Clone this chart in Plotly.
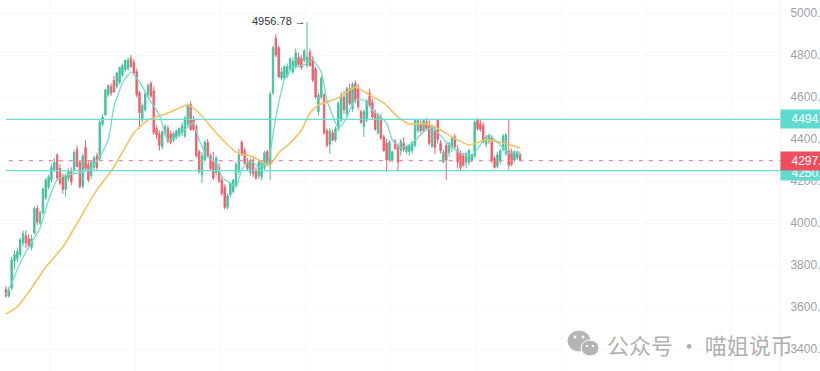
import plotly.graph_objects as go

# OHLC values
opens = [3686,3653,3690,3820,3830,3850,3905,3940,3925,3885,
 3955,4070,4000,4050,4120,4170,4205,4255,4325,4260,
 4220,4160,4215,4245,4255,4350,4290,4175,4360,4280,
 4225,4265,4320,4305,4470,4515,4610,4650,4680,4650,
 4670,4705,4730,4735,4785,4765,4720,4620,4490,4540,
 4610,4665,4630,4450,4425,4365,4425,4450,4425,4395,
 4410,4420,4430,4415,4470,4565,4490,4460,4340,4230,
 4300,4385,4320,4290,4240,4265,4205,4170,4075,4135,
 4150,4180,4245,4385,4345,4290,4240,4300,4250,4225,
 4220,4265,4340,4280,4620,4880,4835,4690,4690,4700,
 4735,4720,4745,4790,4785,4775,4750,4815,4780,4735,
 4530,4600,4610,4440,4375,4430,4395,4450,4490,4600,
 4520,4640,4545,4665,4640,4530,4460,4490,4620,4575,
 4525,4430,4505,4410,4380,4300,4300,4390,4370,4345,
 4380,4340,4340,4345,4370,4440,4470,4440,4480,4470,
 4365,4440,4490,4380,4290,4370,4335,4360,4410,4350,
 4330,4320,4290,4290,4300,4320,4490,4475,4465,4375,
 4390,4405,4310,4270,4295,4350,4330,4345,4340,4300,4310,4325]
highs = [3700,3695,3840,3870,3880,3930,3965,3965,3945,3945,
 4080,4085,4060,4170,4215,4230,4280,4310,4330,4280,
 4235,4235,4260,4265,4350,4370,4300,4330,4395,4300,
 4300,4320,4335,4495,4520,4640,4660,4665,4700,4720,
 4745,4760,4780,4790,4800,4780,4735,4630,4570,4625,
 4665,4675,4650,4465,4440,4440,4470,4465,4440,4435,
 4445,4455,4480,4510,4570,4580,4510,4470,4350,4340,
 4395,4400,4330,4340,4320,4285,4225,4185,4140,4195,
 4210,4290,4355,4395,4360,4310,4310,4320,4265,4300,
 4300,4345,4350,4625,4845,4900,4845,4740,4750,4760,
 4790,4790,4830,4810,4800,4830,4956.78,4830,4795,4745,
 4620,4700,4620,4450,4450,4445,4460,4580,4625,4630,
 4650,4665,4670,4680,4660,4540,4540,4590,4640,4590,
 4540,4525,4520,4420,4400,4395,4340,4400,4380,4400,
 4410,4370,4375,4390,4495,4495,4490,4495,4500,4490,
 4470,4465,4495,4395,4350,4385,4385,4410,4425,4370,
 4345,4335,4340,4355,4330,4490,4500,4490,4480,4420,
 4425,4420,4320,4340,4355,4425,4430,4495,4355,4345,4345,4335]
lows = [3645,3645,3680,3780,3815,3840,3890,3880,3875,3870,
 3945,3990,3990,4040,4110,4160,4195,4245,4205,4180,
 4140,4125,4200,4180,4240,4265,4165,4165,4250,4195,
 4210,4250,4250,4295,4460,4510,4600,4605,4620,4640,
 4660,4695,4720,4725,4740,4710,4600,4450,4480,4530,
 4600,4595,4420,4400,4345,4350,4415,4380,4375,4385,
 4400,4410,4415,4405,4460,4440,4440,4310,4235,4190,
 4290,4310,4250,4205,4225,4190,4130,4065,4065,4125,
 4140,4170,4230,4320,4280,4250,4225,4220,4205,4210,
 4205,4250,4270,4205,4610,4790,4690,4680,4680,4690,
 4725,4710,4735,4745,4730,4765,4740,4745,4670,4590,
 4510,4590,4420,4360,4330,4390,4385,4440,4480,4520,
 4510,4560,4530,4570,4540,4470,4410,4480,4550,4495,
 4440,4420,4395,4340,4245,4290,4290,4350,4245,4320,
 4340,4330,4320,4330,4360,4430,4430,4430,4445,4370,
 4360,4330,4380,4330,4285,4205,4315,4340,4350,4260,
 4250,4270,4260,4275,4290,4310,4440,4435,4380,4360,
 4375,4285,4260,4260,4280,4340,4320,4255,4270,4290,4300,4295]
closes = [3653,3680,3824,3850,3865,3920,3950,3905,3890,3925,
 4070,4005,4050,4160,4205,4220,4265,4290,4215,4190,
 4160,4225,4245,4195,4335,4270,4175,4320,4260,4205,
 4290,4310,4265,4480,4505,4635,4655,4620,4625,4715,
 4740,4750,4775,4775,4745,4715,4610,4525,4560,4615,
 4655,4605,4430,4420,4370,4435,4460,4390,4385,4425,
 4440,4450,4465,4500,4560,4445,4445,4320,4245,4320,
 4385,4320,4260,4215,4310,4200,4140,4075,4130,4190,
 4205,4280,4325,4325,4285,4260,4300,4235,4215,4290,
 4290,4335,4280,4615,4835,4800,4695,4720,4745,4745,
 4780,4770,4810,4755,4740,4820,4790,4750,4680,4600,
 4610,4690,4430,4370,4440,4395,4450,4570,4610,4540,
 4640,4570,4660,4585,4555,4480,4530,4580,4560,4505,
 4445,4515,4405,4345,4300,4385,4340,4355,4290,4390,
 4350,4365,4370,4385,4490,4490,4440,4490,4450,4380,
 4450,4360,4400,4345,4340,4300,4380,4405,4365,4290,
 4265,4275,4330,4345,4325,4480,4450,4445,4385,4410,
 4420,4295,4265,4325,4345,4415,4420,4275,4280,4340,4340,4300]

# moving averages read at selected candles
ma_slow_idx = [0,4,9,14,20,24,32,38,45,50,57,64,68,74,81,87,92,93,96,100,104,107,110,117,123,128,133,138,142,148,153,157,163,169,175,181]
ma_slow = [3567,3601,3691,3791,3886,3975,4158,4267,4429,4491,4524,4562,4524,4429,4338,4315,4277,4277,4334,4381,4443,4524,4562,4596,4648,4610,4572,4505,4472,4472,4443,4410,4372,4396,4381,4358]
ma_fast_idx = [0,2,5,8,12,15,18,21,26,30,33,36,38,41,44,47,51,54,57,60,64,66,68,71,74,76,79,81,83,86,89,92,95,98,101,105,108,111,113,117,119,123,126,129,134,136,139,143,147,150,155,160,164,170,175,177,181]
ma_fast = [3658,3715,3810,3886,3977,4110,4205,4229,4239,4262,4315,4396,4553,4667,4719,4672,4577,4515,4396,4410,4457,4477,4396,4315,4286,4219,4191,4172,4253,4300,4267,4286,4505,4681,4738,4753,4776,4719,4586,4453,4481,4586,4586,4538,4477,4396,4358,4381,4434,4457,4386,4334,4324,4419,4358,4334,4338]

price_ticks = [3400,3600,3800,4000,4200,4400,4600,4800,5000]
level_high = 4494.0
level_low = 4250.0
last_price = 4297.7
peak_price = 4956.78
peak_index = 106
grid_idx = [15.5,45.5,75.5,105.5,135.5,165.5,195.5,225.5,255.5]
watermark = "公众号 · 喵姐说币"

TEAL = "#6adcd3"
GREEN = "#45c2a0"
RED = "#f0606f"
GREY = "#9ea1a8"
W, H, PW = 820, 371, 780
candle_x = list(range(len(opens)))

fig = go.Figure()
fig.add_trace(go.Candlestick(
    x=candle_x, open=opens, high=highs, low=lows, close=closes,
    increasing=dict(line=dict(color=GREEN, width=1), fillcolor=GREEN),
    decreasing=dict(line=dict(color=RED, width=1), fillcolor=RED),
    whiskerwidth=0, showlegend=False))
fig.add_trace(go.Scatter(x=ma_slow_idx, y=ma_slow, mode="lines", showlegend=False,
    line=dict(color="#f6c261", width=1.6, shape="spline", smoothing=0.5)))
fig.add_trace(go.Scatter(x=ma_fast_idx, y=ma_fast, mode="lines", showlegend=False,
    line=dict(color="#74dcc6", width=1.3, shape="spline", smoothing=0.5)))

x_end = 272.5
for lvl, col, dash, x0 in [(level_high, TEAL, "solid", 0), (level_low, TEAL, "solid", 0), (last_price, "#f08a98", "dash", 1)]:
    fig.add_shape(type="line", xref="x", yref="y", x0=x0, x1=x_end, y0=lvl, y1=lvl,
                  line=dict(color=col, width=1.3, dash="solid" if dash == "solid" else "4px,6px"), layer="above")

fig.add_annotation(x=peak_index, y=peak_price, xref="x", yref="y", text="4956.78 <b>→</b>",
                   showarrow=False, xanchor="right", yanchor="middle", xshift=1, yshift=1,
                   font=dict(family="Liberation Sans", size=11, color="#333333"))

for lvl, col, hgt, yshift in [(level_high, "#5fdad0", 18, 0), (level_low, "#5fdad0", 14, -2), (last_price, "#ee4e5e", 18, 0)]:
    fig.add_annotation(xref="paper", x=1.0, yref="y", y=lvl, text="%.1f" % lvl, showarrow=False,
                       xanchor="left", yanchor="middle", width=58, height=hgt, align="center", yshift=yshift,
                       bgcolor=col, borderpad=0,
                       font=dict(family="Liberation Sans", size=12, color="white"))

# watermark
def px(x): return x / PW
def py(y): return 1 - y / H
for (cx, cy, rx, ry, line) in [(579, 341, 11, 10, None), (590, 348, 9, 8, "white")]:
    fig.add_shape(type="circle", xref="paper", yref="paper", x0=px(cx-rx), x1=px(cx+rx), y0=py(cy+ry), y1=py(cy-ry),
                  fillcolor="#b4b4b4", line=dict(color=line or "#b4b4b4", width=1), layer="above")
for (cx, cy, r) in [(575, 337, 1.4), (583, 337, 1.4), (587, 346, 1.1), (593, 346, 1.1)]:
    fig.add_shape(type="circle", xref="paper", yref="paper", x0=px(cx-r), x1=px(cx+r), y0=py(cy+r), y1=py(cy-r),
                  fillcolor="white", line=dict(width=0), layer="above")
fig.add_annotation(xref="paper", yref="paper", x=px(605), y=py(344), text=watermark, showarrow=False,
                   xanchor="left", yanchor="middle",
                   font=dict(family="Noto Sans CJK SC", size=22, color="#b0b0b0"))

fig.update_layout(
    width=W, height=H, margin=dict(l=0, r=W-PW, t=0, b=0, autoexpand=False),
    paper_bgcolor="white", plot_bgcolor="white", showlegend=False,
    xaxis=dict(range=[-2.11, x_end], rangeslider=dict(visible=False), showticklabels=False,
               tickmode="array", tickvals=grid_idx, showgrid=True, gridcolor="#f8f8f8", gridwidth=1,
               zeroline=False, showline=False, ticks=""),
    yaxis=dict(range=[3296, 5062], side="right", tickmode="array", tickvals=price_ticks, automargin=False,
               tickformat=".1f", showgrid=True, gridcolor="#f8f8f8", gridwidth=1, zeroline=False,
               showline=True, linecolor="#f4f4f4", ticks="", ticklabelstandoff=7,
               tickfont=dict(family="Liberation Sans", size=12, color=GREY)),
)
fig.write_html("out.html", config=dict(displayModeBar=False),
               post_script="document.body.style.margin='0';document.documentElement.style.overflow='hidden';")
